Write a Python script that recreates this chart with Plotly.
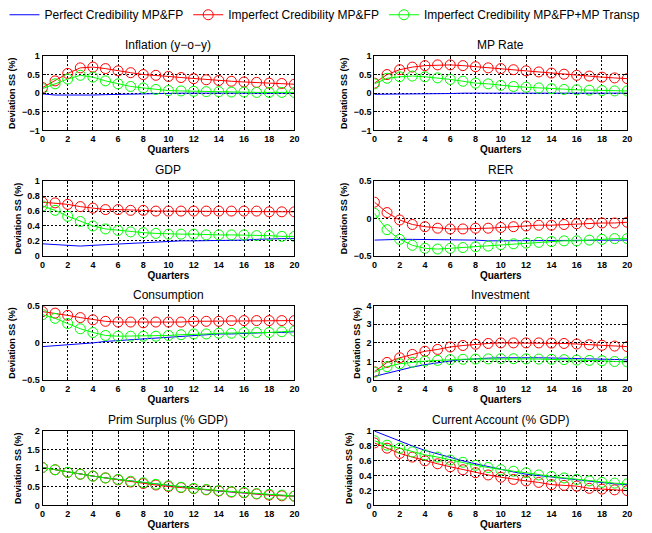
import plotly.graph_objects as go
from plotly.subplots import make_subplots

quarters = list(range(21))

titles = ["Inflation (y−o−y)", "MP Rate", "GDP", "RER", "Consumption", "Investment",
          "Prim Surplus (% GDP)", "Current Account (% GDP)"]

# Perfect credibility (blue), Imperfect (red), Imperfect + MP transparency (green)
infl_blue = [-0.02, -0.05, -0.05, -0.06, -0.05, -0.04, -0.03, -0.02, -0.02, -0.01, 0.0,
             0.0, 0.0, 0.0, 0.0, 0.0, 0.0, 0.0, 0.0, 0.0, 0.0]
infl_red = [0.15, 0.33, 0.53, 0.68, 0.70, 0.66, 0.60, 0.55, 0.50, 0.48, 0.45,
            0.42, 0.39, 0.36, 0.34, 0.32, 0.30, 0.29, 0.27, 0.26, 0.24]
infl_green = [0.12, 0.25, 0.38, 0.48, 0.43, 0.33, 0.25, 0.18, 0.14, 0.10, 0.07,
              0.06, 0.05, 0.04, 0.04, 0.03, 0.03, 0.02, 0.02, 0.02, 0.02]

mp_blue = [-0.03, -0.03, -0.03, -0.03, -0.03, -0.03, -0.01, 0.0, 0.0, 0.0, 0.0,
           0.0, 0.0, 0.0, 0.0, 0.0, 0.0, 0.0, 0.0, 0.0, 0.0]
mp_red = [0.27, 0.50, 0.63, 0.70, 0.74, 0.76, 0.76, 0.74, 0.71, 0.68, 0.66,
          0.63, 0.60, 0.57, 0.54, 0.51, 0.48, 0.46, 0.43, 0.41, 0.39]
mp_green = [0.25, 0.40, 0.44, 0.46, 0.44, 0.41, 0.37, 0.32, 0.27, 0.25, 0.21,
            0.18, 0.16, 0.14, 0.12, 0.10, 0.09, 0.08, 0.07, 0.06, 0.06]

gdp_blue = [0.16, 0.15, 0.13, 0.13, 0.14, 0.15, 0.16, 0.17, 0.18, 0.19, 0.19,
            0.20, 0.20, 0.20, 0.21, 0.21, 0.21, 0.22, 0.23, 0.23, 0.23]
gdp_red = [0.72, 0.71, 0.69, 0.66, 0.64, 0.62, 0.62, 0.61, 0.61, 0.60, 0.60,
           0.60, 0.60, 0.60, 0.60, 0.60, 0.60, 0.60, 0.59, 0.59, 0.59]
gdp_green = [0.67, 0.61, 0.53, 0.46, 0.40, 0.36, 0.34, 0.32, 0.31, 0.30, 0.29,
             0.29, 0.29, 0.28, 0.28, 0.28, 0.28, 0.27, 0.27, 0.26, 0.26]

rer_blue = [-0.29, -0.28, -0.28, -0.28, -0.28, -0.29, -0.29, -0.29, -0.29, -0.30, -0.30,
            -0.30, -0.30, -0.30, -0.29, -0.29, -0.29, -0.29, -0.29, -0.29, -0.29]
rer_red = [0.22, 0.08, -0.02, -0.08, -0.11, -0.13, -0.14, -0.14, -0.13, -0.13, -0.12,
           -0.11, -0.10, -0.09, -0.09, -0.08, -0.07, -0.07, -0.06, -0.06, -0.05]
rer_green = [0.07, -0.15, -0.28, -0.36, -0.40, -0.41, -0.40, -0.39, -0.38, -0.37, -0.35,
             -0.34, -0.33, -0.32, -0.31, -0.30, -0.30, -0.29, -0.28, -0.27, -0.27]

cons_blue = [-0.05, -0.04, -0.03, -0.02, 0.0, 0.02, 0.03, 0.05, 0.06, 0.07, 0.08,
             0.09, 0.10, 0.11, 0.12, 0.12, 0.13, 0.13, 0.14, 0.14, 0.15]
cons_red = [0.42, 0.40, 0.37, 0.34, 0.31, 0.29, 0.28, 0.28, 0.27, 0.28, 0.28,
            0.28, 0.29, 0.29, 0.29, 0.30, 0.30, 0.30, 0.30, 0.30, 0.30]
cons_green = [0.38, 0.33, 0.26, 0.19, 0.14, 0.10, 0.09, 0.09, 0.09, 0.09, 0.10,
              0.11, 0.12, 0.12, 0.13, 0.13, 0.14, 0.14, 0.14, 0.15, 0.16]

inv_blue = [0.20, 0.38, 0.55, 0.70, 0.83, 0.94, 1.03, 1.10, 1.15, 1.18, 1.20,
            1.21, 1.21, 1.20, 1.19, 1.18, 1.17, 1.15, 1.13, 1.11, 1.09]
inv_red = [0.45, 0.95, 1.20, 1.38, 1.55, 1.65, 1.78, 1.86, 1.93, 1.97, 2.00,
           2.00, 2.00, 2.00, 1.99, 1.97, 1.94, 1.90, 1.87, 1.83, 1.80]
inv_green = [0.42, 0.72, 0.88, 0.96, 1.02, 1.06, 1.10, 1.12, 1.13, 1.14, 1.15,
             1.15, 1.14, 1.13, 1.12, 1.10, 1.08, 1.06, 1.04, 1.00, 0.98]

ps_blue = [1.02, 0.96, 0.89, 0.84, 0.79, 0.74, 0.70, 0.65, 0.60, 0.56, 0.52,
           0.49, 0.46, 0.42, 0.39, 0.37, 0.34, 0.31, 0.29, 0.27, 0.25]
ps_red = [1.02, 0.96, 0.89, 0.84, 0.79, 0.74, 0.69, 0.63, 0.59, 0.55, 0.51,
          0.48, 0.45, 0.42, 0.39, 0.36, 0.34, 0.31, 0.28, 0.26, 0.25]
ps_green = [1.02, 0.96, 0.89, 0.84, 0.79, 0.74, 0.70, 0.65, 0.61, 0.57, 0.53,
            0.49, 0.46, 0.43, 0.40, 0.37, 0.35, 0.32, 0.30, 0.28, 0.25]

ca_blue = [1.00, 0.93, 0.86, 0.80, 0.74, 0.69, 0.64, 0.60, 0.56, 0.52, 0.48,
           0.45, 0.42, 0.40, 0.38, 0.36, 0.34, 0.32, 0.30, 0.29, 0.28]
ca_red = [0.84, 0.77, 0.70, 0.65, 0.60, 0.56, 0.52, 0.48, 0.44, 0.41, 0.38,
          0.35, 0.33, 0.31, 0.28, 0.27, 0.26, 0.23, 0.22, 0.21, 0.20]
ca_green = [0.87, 0.81, 0.77, 0.72, 0.68, 0.65, 0.61, 0.58, 0.54, 0.51, 0.48,
            0.46, 0.44, 0.41, 0.39, 0.37, 0.35, 0.33, 0.31, 0.30, 0.29]

series = [
    (infl_blue, infl_red, infl_green),
    (mp_blue, mp_red, mp_green),
    (gdp_blue, gdp_red, gdp_green),
    (rer_blue, rer_red, rer_green),
    (cons_blue, cons_red, cons_green),
    (inv_blue, inv_red, inv_green),
    (ps_blue, ps_red, ps_green),
    (ca_blue, ca_red, ca_green),
]

y_ranges = [(-1, 1), (-1, 1), (0, 1), (-0.5, 0.5), (-0.5, 0.5), (0, 4), (0, 2), (0, 1)]
y_ticks = [
    [-1, -0.5, 0, 0.5, 1], [-1, -0.5, 0, 0.5, 1],
    [0, 0.2, 0.4, 0.6, 0.8, 1], [-0.5, 0, 0.5],
    [-0.5, 0, 0.5], [0, 1, 2, 3, 4],
    [0, 0.5, 1, 1.5, 2], [0, 0.2, 0.4, 0.6, 0.8, 1],
]
x_ticks = list(range(0, 21, 2))

legend_names = ["Perfect Credibility MP&FP", "Imperfect Credibility MP&FP",
                "Imperfect Credibility MP&FP+MP Transp"]

W, H = 652, 533
FONT = "Arial, Liberation Sans, Helvetica, sans-serif"

fig = make_subplots(rows=4, cols=2)

col_x = [(40, 295), (376, 632)]
row_y = [(51, 127), (179, 255), (306, 382), (434, 510)]

for i, (b, r, g) in enumerate(series):
    row, col = i // 2 + 1, i % 2 + 1
    show = i == 0
    fig.add_trace(go.Scatter(x=quarters, y=b, mode="lines", name=legend_names[0],
                             line=dict(color="#0000ff", width=1), showlegend=show,
                             legendrank=1), row=row, col=col)
    fig.add_trace(go.Scatter(x=quarters, y=r, mode="lines+markers", name=legend_names[1],
                             line=dict(color="#ff0000", width=1),
                             marker=dict(symbol="circle-open", size=10, color="#ff0000",
                                         line=dict(width=1)),
                             showlegend=show, legendrank=2), row=row, col=col)
    fig.add_trace(go.Scatter(x=quarters, y=g, mode="lines+markers", name=legend_names[2],
                             line=dict(color="#00ff00", width=1),
                             marker=dict(symbol="circle-open", size=10, color="#00ff00",
                                         line=dict(width=1)),
                             showlegend=show, legendrank=3), row=row, col=col)

annotations = []
for i in range(8):
    row, col = i // 2, i % 2
    x0, x1 = col_x[col]
    y0, y1 = row_y[row]
    axn = "" if i == 0 else str(i + 1)
    fig.layout["xaxis" + axn].update(
        domain=[x0 / W, x1 / W], range=[0, 20], tickvals=x_ticks,
        showgrid=True, gridcolor="black", griddash="2px,2px", gridwidth=1,
        showline=True, linecolor="black", linewidth=1, mirror="ticks",
        ticks="inside", ticklen=3, tickcolor="black", zeroline=False,
        tickfont=dict(family=FONT, size=9, color="black", weight="bold"),
        title=dict(text="Quarters", standoff=2,
                   font=dict(family=FONT, size=10, color="black", weight="bold")),
    )
    fig.layout["yaxis" + axn].update(
        domain=[1 - y1 / H, 1 - y0 / H], range=list(y_ranges[i]), tickvals=y_ticks[i],
        showgrid=True, gridcolor="black", griddash="2px,2px", gridwidth=1,
        showline=True, linecolor="black", linewidth=1, mirror="ticks",
        ticks="inside", ticklen=3, tickcolor="black", zeroline=False,
        tickfont=dict(family=FONT, size=9, color="black", weight="bold"),
        title=dict(text="Deviation SS (%)", standoff=4,
                   font=dict(family=FONT, size=9, color="black", weight="bold")),
    )
    annotations.append(dict(
        text=titles[i], x=(x0 + x1) / 2 / W, y=1 - (y0 - 2) / H,
        xref="paper", yref="paper", xanchor="center", yanchor="bottom",
        showarrow=False, font=dict(family=FONT, size=12, color="black")))

fig.update_layout(
    width=W, height=H, margin=dict(l=0, r=0, t=0, b=0),
    paper_bgcolor="white", plot_bgcolor="white",
    annotations=annotations,
    legend=dict(orientation="h", x=0.5, xanchor="center", y=1.011, yanchor="top",
                font=dict(family=FONT, size=12, color="black"),
                bgcolor="rgba(0,0,0,0)", itemwidth=30, tracegroupgap=0),
    showlegend=True,
)

fig.write_html("out.html")
